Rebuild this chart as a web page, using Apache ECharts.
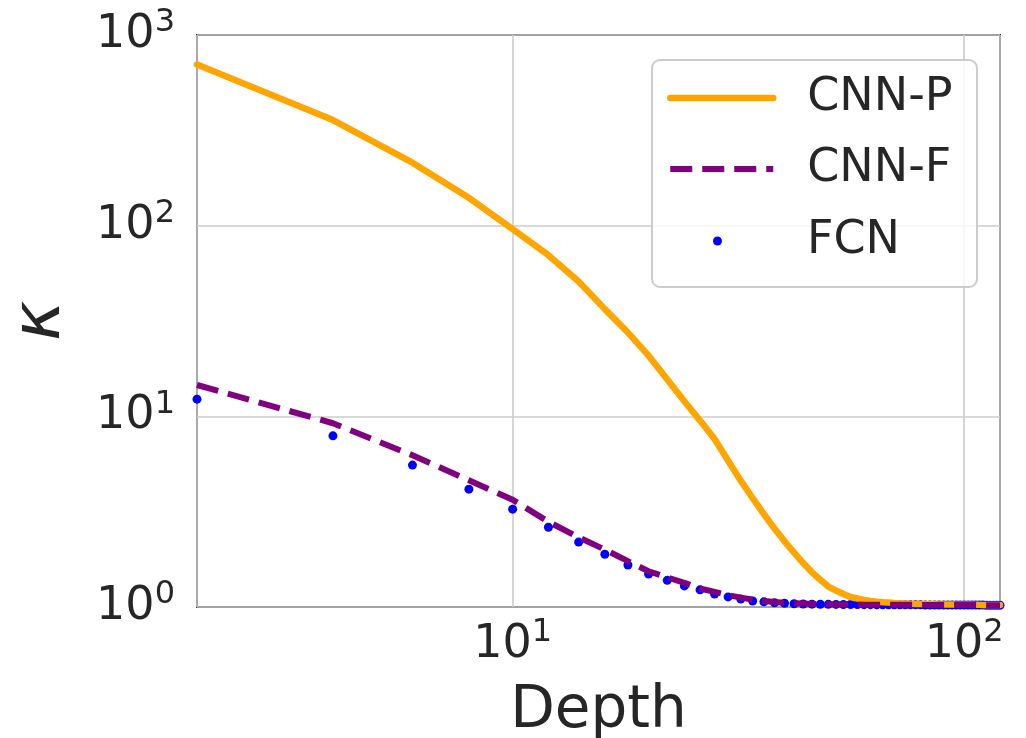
<!DOCTYPE html>
<html>
<head>
<meta charset="utf-8">
<script src="https://cdn.jsdelivr.net/npm/echarts@6/dist/echarts.min.js"></script>
<style>
  html, body { margin: 0; padding: 0; background: #fff; }
  #chart { width: 1026px; height: 738px; }
</style>
</head>
<body>
<div id="chart"></div>
<script>
// network depth (x)
const depth = [2, 4, 6, 8, 10, 12, 14, 16, 18, 20,
  22, 24, 26, 28, 30, 32, 34, 36, 38, 40,
  42, 44, 46, 48, 50, 52, 54, 56, 58, 60,
  62, 64, 66, 68, 70, 72, 74, 76, 78, 80,
  82, 84, 86, 88, 90, 92, 94, 96, 98, 100,
  102, 104, 106, 108, 110, 112, 114, 116, 118, 120]

// condition number per depth
const cnnP = [700, 358, 214, 140, 96, 70, 51, 36.5, 27.5, 20.8,
  15.6, 12.0, 9.5, 7.6, 5.85, 4.6, 3.72, 3.07, 2.58, 2.21,
  1.93, 1.7, 1.52, 1.39, 1.28, 1.22, 1.17, 1.128, 1.108, 1.09,
  1.075, 1.067, 1.06, 1.055, 1.05, 1.046, 1.043, 1.04, 1.038, 1.036,
  1.035, 1.034, 1.033, 1.032, 1.031, 1.03, 1.03, 1.029, 1.028, 1.028,
  1.027, 1.027, 1.026, 1.026, 1.025, 1.025, 1.025, 1.024, 1.024, 1.024]

const cnnF = [14.6, 9.2, 6.25, 4.62, 3.65, 2.8, 2.32, 2.0, 1.74, 1.54,
  1.43, 1.34, 1.25, 1.2, 1.155, 1.12, 1.095, 1.075, 1.062, 1.053,
  1.046, 1.042, 1.038, 1.035, 1.033, 1.032, 1.031, 1.03, 1.03, 1.029,
  1.029, 1.028, 1.028, 1.027, 1.027, 1.027, 1.026, 1.026, 1.026, 1.025,
  1.025, 1.025, 1.025, 1.024, 1.024, 1.024, 1.024, 1.024, 1.023, 1.023,
  1.023, 1.023, 1.023, 1.023, 1.022, 1.022, 1.022, 1.022, 1.022, 1.022]

const fcn = [12.3, 7.9, 5.55, 4.15, 3.26, 2.62, 2.19, 1.89, 1.66, 1.49,
  1.38, 1.29, 1.23, 1.17, 1.13, 1.1, 1.075, 1.064, 1.053, 1.046,
  1.04, 1.037, 1.035, 1.034, 1.033, 1.032, 1.031, 1.03, 1.03, 1.029,
  1.029, 1.028, 1.028, 1.028, 1.027, 1.027, 1.027, 1.026, 1.026, 1.026,
  1.025, 1.025, 1.025, 1.025, 1.024, 1.024, 1.024, 1.024, 1.024, 1.023,
  1.023, 1.023, 1.023, 1.023, 1.023, 1.022, 1.022, 1.022, 1.022, 1.022]

const seriesNames = ['CNN-P', 'CNN-F', 'FCN']

const FONT = 'DejaVu Sans'
const TXT = '#262626'

// 10^n label with superscript, blank for the non-decade edge ticks
function powLabel(v) {
  const e = Math.log10(v)
  const r = Math.round(e)
  if (Math.abs(e - r) > 1e-6) return ''
  return '{b|10}{s|' + r + '}'
}
const richPow = {
  b: { fontSize: 46, fontFamily: FONT, color: TXT },
  s: { fontSize: 32, fontFamily: FONT, color: TXT, padding: [0, 0, 24, 0] }
}

const chart = echarts.init(document.getElementById('chart'))
chart.setOption({
  animation: false,
  backgroundColor: '#fff',
  grid: {
    left: 197, right: 26, top: 35, bottom: 131,
    outerBoundsMode: 'none', containLabel: false,
    show: true, borderColor: '#262626', borderWidth: 2
  },
  xAxis: {
    type: 'log', logBase: 10, min: 2, max: 120,
    name: 'Depth', nameLocation: 'middle', nameGap: 76,
    nameTextStyle: { fontSize: 58, fontFamily: FONT, color: TXT },
    axisLine: { show: false },
    axisTick: { show: false },
    axisLabel: { formatter: powLabel, rich: richPow, margin: 10 },
    splitLine: { show: true, lineStyle: { color: '#cccccc', width: 1.6 } }
  },
  yAxis: {
    type: 'log', logBase: 10, min: 1, max: 1000,
    name: 'κ', nameLocation: 'middle', nameGap: 122, nameRotate: 90,
    nameTextStyle: { fontSize: 68, fontFamily: FONT, fontStyle: 'italic', color: TXT },
    axisLine: { show: false },
    axisTick: { show: false },
    axisLabel: { formatter: powLabel, rich: richPow, margin: 22 },
    splitLine: { show: true, lineStyle: { color: '#cccccc', width: 1.6 } }
  },
  graphic: [{
    type: 'rect', z: 10,
    shape: { x: 652, y: 60, width: 325, height: 227, r: 8 },
    style: { fill: 'rgba(255,255,255,0.8)', stroke: '#cccccc', lineWidth: 2 }
  }],
  legend: [{
    data: [seriesNames[0], seriesNames[1]],
    orient: 'vertical', left: 667, top: 73, z: 20, padding: 0,
    itemWidth: 103, itemHeight: 12, itemGap: 21,
    selectedMode: false,
    lineStyle: { width: 'inherit' },
    itemStyle: { opacity: 0 },
    textStyle: { fontSize: 46, fontFamily: FONT, color: TXT, lineHeight: 50, padding: [0, 0, 0, 29] }
  }, {
    data: [seriesNames[2]],
    orient: 'vertical', left: 713, top: 216, z: 20, padding: 0,
    itemWidth: 9, itemHeight: 9,
    selectedMode: false,
    textStyle: { fontSize: 46, fontFamily: FONT, color: TXT, lineHeight: 50, padding: [0, 0, 0, 80] }
  }],
  series: [{
    name: seriesNames[0], type: 'line', symbol: 'none',
    data: depth.map((d, i) => [d, cnnP[i]]),
    lineStyle: { color: '#FFA500', width: 6.5, cap: 'round' },
    itemStyle: { color: '#FFA500' }
  }, {
    name: seriesNames[1], type: 'line', symbol: 'none',
    data: depth.map((d, i) => [d, cnnF[i]]),
    lineStyle: { color: '#800080', width: 6, type: [22, 10] },
    itemStyle: { color: '#800080' }
  }, {
    name: seriesNames[2], type: 'scatter', symbolSize: 9,
    data: depth.map((d, i) => [d, fcn[i]]),
    itemStyle: { color: '#0000FF', opacity: 1 }
  }]
})
</script>
</body>
</html>
